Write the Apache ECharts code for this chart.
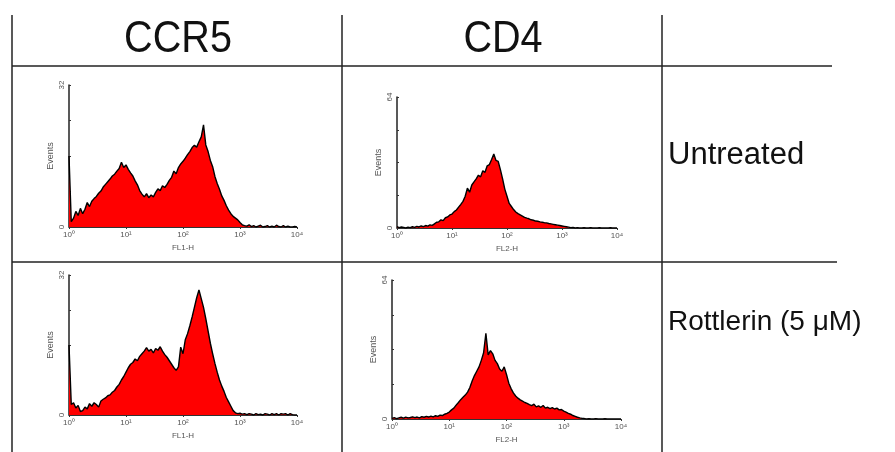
<!DOCTYPE html>
<html>
<head>
<meta charset="utf-8">
<script src="https://cdn.jsdelivr.net/npm/echarts@6/dist/echarts.min.js"></script>
<style>
html,body{margin:0;padding:0;background:#fff;}
#c{width:895px;height:452px;}
</style>
</head>
<body>
<div id="c"></div>
<script>
// Column and row headers
const columnHeaders = ['CCR5', 'CD4'];
const rowHeaders = ['Untreated', 'Rottlerin (5 \u03bcM)'];
const xAxisNames = ['FL1-H', 'FL2-H'];
const yAxisName = 'Events';
const yMaxByColumn = [32, 64];
const xTickLabels = ['10\u2070', '10\u00b9', '10\u00b2', '10\u00b3', '10\u2074'];
// histogram bin width, in decades (4 decades, 25 bins per decade)
const binWidth = 0.04;

// Event counts per bin
const ccr5Untreated = [16, 1.2, 2.0, 3.5, 2.6, 4.2, 3.0, 4.0, 5.5, 4.6,
 5.8, 6.4, 6.9, 7.6, 8.1, 9.0, 9.6, 10.2, 10.8, 11.5,
 11.9, 12.6, 13.2, 14.6, 13.4, 14.0, 13.0, 12.2, 11.5, 10.4,
 9.5, 8.2, 7.4, 6.8, 7.5, 6.6, 7.2, 6.8, 7.8, 8.6,
 8.2, 9.3, 8.9, 9.6, 10.5, 11.2, 12.6, 12.0, 13.4, 14.2,
 14.8, 15.5, 16.3, 17.0, 17.9, 18.4, 18.0, 19.2, 20.3, 23.0,
 18.5, 17.0, 15.0, 13.6, 11.4, 9.8, 8.5, 7.0, 6.0, 4.8,
 3.8, 3.0, 2.4, 2.0, 1.6, 1.0, 0.5, 0.3, 0.2, 0.5,
 0.1, 0.3, 0, 0.2, 0.4, 0, 0.1, 0.3, 0, 0.2,
 0, 0.4, 0.1, 0, 0.3, 0, 0.2, 0, 0, 0.1, 0];

const cd4Untreated = [0.6, 0.2, 0.5, 0.3, 0.0, 0.4, 0.2, 0.6, 0.3, 0.8,
 0.5, 1.0, 0.7, 1.2, 0.9, 1.5, 1.3, 2.0, 2.8, 3.0,
 4.0, 3.6, 5.0, 5.4, 6.4, 6.8, 8.0, 8.8, 10.2, 11.5,
 13.0, 15.5, 19.5, 17.5, 21.0, 22.5, 24.0, 25.8, 25.0, 28.0,
 27.2, 30.4, 31.0, 33.5, 36.2, 33.0, 32.5, 28.5, 24.0, 19.0,
 15.5, 12.0, 10.5, 9.0, 7.8, 7.0, 6.4, 5.8, 5.2, 4.8,
 4.5, 4.0, 3.8, 3.4, 3.3, 3.0, 2.8, 2.6, 2.5, 2.2,
 2.0, 1.8, 1.6, 1.4, 1.2, 1.0, 0.8, 0.6, 0.4, 0.2,
 0.3, 0, 0.2, 0, 0, 0.1, 0, 0, 0.2, 0,
 0, 0, 0.1, 0, 0, 0, 0, 0.1, 0, 0, 0];

const ccr5Rottlerin = [16, 2.4, 2.8, 1.6, 2.2, 0.8, 1.0, 1.8, 1.4, 2.6,
 2.0, 2.8, 2.4, 1.8, 3.2, 3.6, 3.9, 4.4, 4.6, 5.2,
 5.6, 6.4, 7.0, 8.0, 8.8, 9.8, 10.8, 11.6, 12.0, 12.8,
 12.4, 13.4, 14.0, 14.6, 15.4, 14.6, 15.0, 14.2, 15.2, 14.8,
 15.6, 14.6, 13.8, 13.2, 12.4, 11.6, 10.8, 10.2, 11.0, 15.5,
 14.0, 17.2, 18.6, 20.4, 22.4, 24.6, 26.8, 28.6, 26.6, 24.6,
 22.0, 19.2, 16.4, 14.0, 11.8, 9.8, 8.0, 6.6, 5.4, 4.0,
 3.0, 2.0, 1.0, 0.5, 0.3, 0.4, 0.2, 0.3, 0.1, 0.3,
 0.2, 0, 0.3, 0.1, 0.2, 0, 0.3, 0.2, 0, 0.3,
 0.1, 0.3, 0, 0.3, 0.2, 0.3, 0, 0.3, 0.1, 0, 0];

const cd4Rottlerin = [0.3, 0.6, 0.2, 0.5, 0.8, 0.4, 0.9, 0.5, 0.7, 1.0,
 0.6, 0.9, 0.5, 1.1, 0.8, 1.2, 0.9, 1.3, 1.0, 1.5,
 1.2, 1.8, 1.6, 2.2, 2.6, 3.2, 4.2, 5.0, 6.4, 7.6,
 8.9, 10.0, 11.0, 12.4, 14.5, 17.5, 20.0, 22.0, 24.0, 27.0,
 30.5, 39.5, 29.5, 31.5, 30.0, 27.0, 25.5, 23.0, 22.0, 24.0,
 20.5, 16.5, 14.0, 12.0, 10.6, 9.6, 8.8, 8.2, 7.6, 7.2,
 6.6, 6.2, 6.8, 5.6, 6.0, 5.4, 6.2, 5.0, 5.4, 4.8,
 5.2, 4.6, 5.0, 4.2, 4.4, 3.6, 3.2, 2.6, 2.2, 1.6,
 1.2, 0.8, 0.5, 0.3, 0.2, 0, 0.1, 0, 0, 0.2,
 0, 0, 0, 0.1, 0, 0, 0, 0, 0, 0, 0];

const panels = [
  {values: ccr5Untreated, col: 0, grid: {left: 69, top: 85, width: 228, height: 142}},
  {values: cd4Untreated, col: 1, grid: {left: 397, top: 97, width: 220, height: 131}},
  {values: ccr5Rottlerin, col: 0, grid: {left: 69, top: 275, width: 228, height: 140}},
  {values: cd4Rottlerin, col: 1, grid: {left: 392, top: 280, width: 229, height: 139}}
];

const FONT = '"Liberation Sans", Arial, sans-serif';
const small = {color: '#555', fontSize: 8, fontFamily: FONT};

const grids = [], xAxes = [], yAxes = [], series = [];
panels.forEach((p, i) => {
  const ymax = yMaxByColumn[p.col];
  grids.push(Object.assign({containLabel: false}, p.grid));
  xAxes.push({
    type: 'value', gridIndex: i, min: 0, max: 4, interval: 1,
    name: xAxisNames[p.col], nameLocation: 'middle', nameGap: 17,
    nameTextStyle: {color: '#555', fontSize: 8, fontFamily: FONT},
    axisLine: {lineStyle: {color: '#333', width: 1}},
    axisTick: {show: true, length: 2, lineStyle: {color: '#333'}},
    axisLabel: Object.assign({margin: 4, formatter: v => xTickLabels[v]}, small),
    splitLine: {show: false}
  });
  yAxes.push({
    type: 'value', gridIndex: i, min: 0, max: ymax, interval: ymax / 4,
    name: yAxisName, nameLocation: 'middle', nameGap: 14, nameRotate: 90,
    nameTextStyle: {color: '#555', fontSize: 9, fontFamily: FONT},
    axisLine: {show: true, lineStyle: {color: '#222', width: 1.5}},
    axisTick: {show: true, inside: true, length: 2, lineStyle: {color: '#333'}},
    axisLabel: Object.assign({margin: 3, rotate: 90,
      formatter: v => (v === 0 || v === ymax) ? String(v) : ''}, small),
    splitLine: {show: false}
  });
  series.push({
    type: 'line', xAxisIndex: i, yAxisIndex: i,
    data: p.values.map((v, k) => [k * binWidth, v]),
    showSymbol: false, symbol: 'none', animation: false,
    lineStyle: {color: '#000', width: 1.4},
    areaStyle: {color: '#ff0000', opacity: 1}
  });
});

const lineStyle = {stroke: '#222', lineWidth: 1.5};
const graphic = [
  {type: 'line', shape: {x1: 12, y1: 15, x2: 12, y2: 452}, style: lineStyle},
  {type: 'line', shape: {x1: 342, y1: 15, x2: 342, y2: 452}, style: lineStyle},
  {type: 'line', shape: {x1: 662, y1: 15, x2: 662, y2: 452}, style: lineStyle},
  {type: 'line', shape: {x1: 12, y1: 66, x2: 832, y2: 66}, style: lineStyle},
  {type: 'line', shape: {x1: 12, y1: 262, x2: 837, y2: 262}, style: lineStyle},
  {type: 'text', x: 178, y: 40, scaleX: 0.9, style: {text: columnHeaders[0], fontSize: 44, fontFamily: FONT, fill: '#111', align: 'center', verticalAlign: 'middle'}},
  {type: 'text', x: 503, y: 40, scaleX: 0.9, style: {text: columnHeaders[1], fontSize: 44, fontFamily: FONT, fill: '#111', align: 'center', verticalAlign: 'middle'}},
  {type: 'text', x: 668, y: 155, style: {text: rowHeaders[0], fontSize: 31, fontFamily: FONT, fill: '#111', align: 'left', verticalAlign: 'middle'}},
  {type: 'text', x: 668, y: 322, style: {text: rowHeaders[1], fontSize: 28, fontFamily: FONT, fill: '#111', align: 'left', verticalAlign: 'middle'}}
];

const chart = echarts.init(document.getElementById('c'), null, {renderer: 'canvas'});
chart.setOption({
  backgroundColor: '#fff',
  animation: false,
  grid: grids, xAxis: xAxes, yAxis: yAxes, series: series,
  graphic: graphic
});
</script>
</body>
</html>
